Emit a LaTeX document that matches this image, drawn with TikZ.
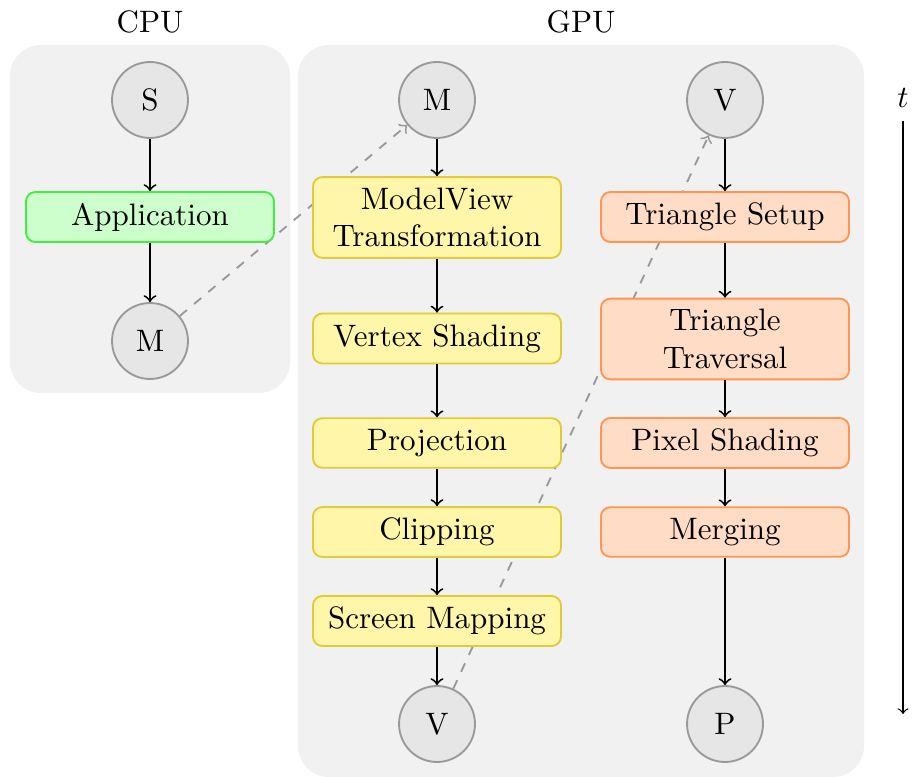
\documentclass[tikz,border=0pt]{standalone}
\usetikzlibrary{positioning}
\definecolor{panelgray}{HTML}{F1F1F1}
\definecolor{circfill}{HTML}{E6E6E6}
\definecolor{circdraw}{HTML}{999999}
\definecolor{appfill}{HTML}{CCFFCC}
\definecolor{appdraw}{HTML}{40F040}
\definecolor{yelfill}{HTML}{FFF6AA}
\definecolor{yeldraw}{HTML}{E0CC38}
\definecolor{orafill}{HTML}{FFDCC6}
\definecolor{oradraw}{HTML}{FF9550}
\pgfdeclarelayer{bg}
\pgfdeclarelayer{mid}
\pgfsetlayers{bg,mid,main}
\tikzset{
  stagecirc/.style={circle, fill=circfill, draw=circdraw, semithick, minimum size=24.5pt, inner sep=0pt},
  stagebox/.style={rectangle, rounded corners=3pt, semithick, minimum width=80pt, minimum height=16pt, align=center, inner xsep=2.5pt, inner ysep=3.5pt},
  appbox/.style={stagebox, fill=appfill, draw=appdraw},
  geobox/.style={stagebox, fill=yelfill, draw=yeldraw},
  rasbox/.style={stagebox, fill=orafill, draw=oradraw},
  flow/.style={->, semithick, black},
  handoff/.style={->, dashed, semithick, circdraw},
  panel/.style={fill=panelgray, rounded corners=10pt},
}
\begin{document}
\begin{tikzpicture}[x=0.3226pt, y=-0.3226pt]
\useasboundingbox (0,0) rectangle (912,777);
\begin{pgfonlayer}{bg}
  \path[panel] (10,45) rectangle (290,393);
  \path[panel] (298,45) rectangle (864,777);
\end{pgfonlayer}
\node (cpulabel) at (150,22) {CPU};
\node (gpulabel) at (581,22) {GPU};
% CPU
\node[stagecirc] (cS) at (150,100) {S};
\node[appbox] (app) at (150,217) {Application};
\node[stagecirc] (cM) at (150,341) {M};
% GPU geometry
\node[stagecirc] (gM) at (437,100) {M};
\node[geobox] (mv) at (437,217.5) {ModelView\\Transformation};
\node[geobox] (vs) at (437,338.5) {Vertex Shading};
\node[geobox] (proj) at (437,443) {Projection};
\node[geobox] (clip) at (437,532) {Clipping};
\node[geobox] (sm) at (437,621) {Screen Mapping};
\node[stagecirc] (gV) at (437,724) {V};
% GPU rasterization
\node[stagecirc] (rV) at (725,100) {V};
\node[rasbox] (ts) at (725,217) {Triangle Setup};
\node[rasbox] (tt) at (725,339) {Triangle\\Traversal};
\node[rasbox] (ps) at (725,443) {Pixel Shading};
\node[rasbox] (mg) at (725,532) {Merging};
\node[stagecirc] (rP) at (725,724) {P};
% dashed hand-offs behind boxes
\begin{pgfonlayer}{mid}
  \draw[handoff] (cM) -- (gM);
  \draw[handoff] (gV) -- (rV);
\end{pgfonlayer}
% flows
\draw[flow] (cS) -- (app);
\draw[flow] (app) -- (cM);
\draw[flow] (gM) -- (mv);
\draw[flow] (mv) -- (vs);
\draw[flow] (vs) -- (proj);
\draw[flow] (proj) -- (clip);
\draw[flow] (clip) -- (sm);
\draw[flow] (sm) -- (gV);
\draw[flow] (rV) -- (ts);
\draw[flow] (ts) -- (tt);
\draw[flow] (tt) -- (ps);
\draw[flow] (ps) -- (mg);
\draw[flow] (mg) -- (rP);
% time axis
\node (tlabel) at (903,98) {$t$};
\coordinate (tstart) at (903,121);
\coordinate (tend) at (903,714);
\draw[->, thin] (tstart) -- (tend);
\end{tikzpicture}
\end{document}
